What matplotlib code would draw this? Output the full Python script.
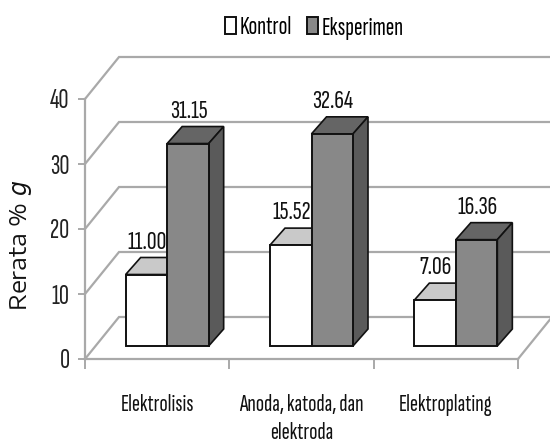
import matplotlib
matplotlib.use("Agg")
import matplotlib.pyplot as plt
from matplotlib.patches import Polygon
import numpy as np

categories = ["Elektrolisis", "Anoda, katoda, dan\nelektroda", "Elektroplating"]
kontrol = [11.00, 15.52, 7.06]
eksperimen = [31.15, 32.64, 16.36]
series_names = ["Kontrol", "Eksperimen"]
y_ticks = [0, 10, 20, 30, 40]

W, H = 550, 443
NARROW = ["Sofia Sans Extra Condensed", "Liberation Sans"]
WIDE = ["Encode Sans Expanded", "DejaVu Sans"]
plt.rcParams["mathtext.fontset"] = "custom"
plt.rcParams["mathtext.it"] = "DejaVu Sans:italic"
plt.rcParams["mathtext.rm"] = "DejaVu Sans"

fig = plt.figure(figsize=(W / 100, H / 100), dpi=100, facecolor="white")
L, R, T, B = 85, 518, 99, 359
ax = fig.add_axes([L / W, 1 - B / H, (R - L) / W, (B - T) / H])
ax.set_xlim(0, 3)
ax.set_ylim(0, 40)
ax.patch.set_visible(False)

px_x = 3 / (R - L)
px_y = 40 / (B - T)
depth_x, depth_y = 34 * px_x, 42 * px_y      # full floor depth
bar_dx, bar_dy = 15 * px_x, 17 * px_y        # bar depth
lift_x, lift_y = 10 * px_x, 13 * px_y        # gap floor front to bar
bw = 41.5 * px_x
GRID = "#a9a9a9"

# back wall lines and left diagonals
for t in y_ticks:
    ax.plot([0, depth_x, 3.3], [t, t + depth_y, t + depth_y], color=GRID, lw=1.6,
            clip_on=False, zorder=1, solid_joinstyle="miter")
ax.plot([3, 3 + depth_x], [0, depth_y], color=GRID, lw=1.6, clip_on=False, zorder=1)

x = np.arange(3) + 0.5 + lift_x
edge = "#111111"


def depth_faces(xc, v, top_col, side_col, z):
    x0, x1 = xc - bw / 2, xc + bw / 2
    y0, y1 = lift_y, lift_y + v
    ax.add_patch(Polygon([(x0, y1), (x1, y1), (x1 + bar_dx, y1 + bar_dy), (x0 + bar_dx, y1 + bar_dy)],
                         closed=True, fc=top_col, ec=edge, lw=1.2, clip_on=False, zorder=z))
    ax.add_patch(Polygon([(x1, y0), (x1 + bar_dx, y0 + bar_dy), (x1 + bar_dx, y1 + bar_dy), (x1, y1)],
                         closed=True, fc=side_col, ec=edge, lw=1.2, clip_on=False, zorder=z))


for i in range(3):
    depth_faces(x[i] - bw / 2, kontrol[i], "#c9c9c9", "#c0c0c0", 2)
    depth_faces(x[i] + bw / 2, eksperimen[i], "#656565", "#5a5a5a", 4)

b1 = ax.bar(x - bw / 2, kontrol, bw, bottom=lift_y, color="white", edgecolor=edge, lw=1.4,
            zorder=3, label=series_names[0], clip_on=False)
b2 = ax.bar(x + bw / 2, eksperimen, bw, bottom=lift_y, color="#888888", edgecolor=edge, lw=1.4,
            zorder=5, label=series_names[1], clip_on=False)

# value labels
for xs, vals in ((x - bw / 2, kontrol), (x + bw / 2, eksperimen)):
    for xc, v in zip(xs, vals):
        ax.annotate(f"{v:.2f}", (xc, v + lift_y + bar_dy), xytext=(0.5, 11), textcoords="offset points",
                    ha="center", va="center", fontsize=19.5, family=NARROW, color="#111111", zorder=6,
                    annotation_clip=False)

# axes
for s in ("top", "right"):
    ax.spines[s].set_visible(False)
for s in ("left", "bottom"):
    ax.spines[s].set_color(GRID)
    ax.spines[s].set_linewidth(1.6)
ax.set_yticks(y_ticks)
ax.set_xticks([0, 1, 2, 3])
ax.set_xticklabels([])
ax.set_xticks([0.5, 1.5, 2.5], minor=True)
ax.set_xticklabels(categories, minor=True, fontsize=17.5, family=NARROW, color="#111111", linespacing=1.38)
ax.tick_params(axis="x", which="major", length=7, width=1.4, color=GRID)
ax.tick_params(axis="x", which="minor", length=0, pad=25)
ax.tick_params(axis="y", length=5, width=1.4, color=GRID, pad=6)
for lab in ax.get_yticklabels():
    lab.set_fontsize(20)
    lab.set_family(NARROW)
    lab.set_color("#222222")

fig.text(21 / W, 1 - 245 / H, "Rerata % $\\mathit{g}$", rotation=90, ha="center", va="center",
         fontsize=17, family=WIDE, color="#111111")

ax.legend(handles=[b1, b2], loc="center", bbox_to_anchor=(314.5 / W, 1 - 28 / H),
          bbox_transform=fig.transFigure, ncol=2, frameon=False, prop={"family": NARROW, "size": 18.5},
          handlelength=0.43, handleheight=0.66, handletextpad=0.12, columnspacing=0.6)

fig.savefig("out.png", dpi=100, facecolor="white")
